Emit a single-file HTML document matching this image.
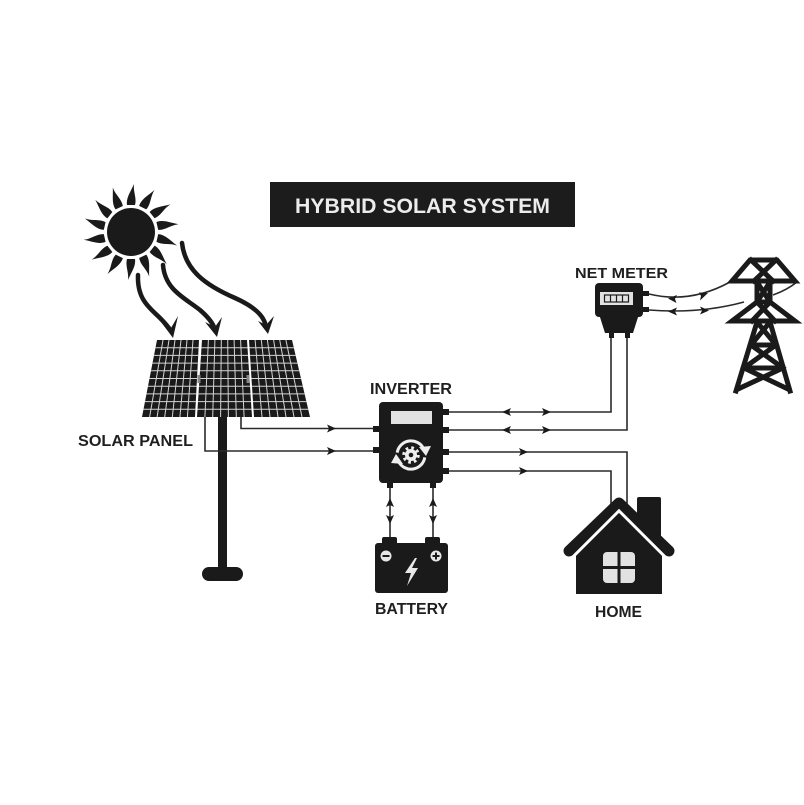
<!DOCTYPE html>
<html><head><meta charset="utf-8"><style>
html,body{margin:0;padding:0;background:#fff;}
svg{display:block;}
text{font-family:"Liberation Sans",Arial,sans-serif;font-weight:bold;}
</style></head><body>
<svg width="804" height="805" viewBox="0 0 804 805" xmlns="http://www.w3.org/2000/svg">
<defs>
  <clipPath id="pclip">
    <polygon points="157,340 199,340 195,417 142,417"/>
    <polygon points="202,340 247,340 252,417 197,417"/>
    <polygon points="249,340 292,340 310,417 254,417"/>
  </clipPath>
</defs>
<rect width="804" height="805" fill="#fff"/>

<!-- Title -->
<rect x="270" y="182" width="305" height="45" fill="#1c1c1c"/>
<text x="295" y="213" font-size="21" fill="#ececec" textLength="255" lengthAdjust="spacingAndGlyphs">HYBRID SOLAR SYSTEM</text>

<!-- Sun -->
<g transform="translate(131,232)" fill="#1a1a1a">
  <circle r="24"/>
  <path id="ray" d="M-4,-27 C-5,-34 -1,-39 3,-48 C2,-40 6,-34 4,-27 Z"/>
  <use href="#ray" transform="rotate(25.7)"/>
  <use href="#ray" transform="rotate(51.4)"/>
  <use href="#ray" transform="rotate(77.1)"/>
  <use href="#ray" transform="rotate(102.8)"/>
  <use href="#ray" transform="rotate(128.5)"/>
  <use href="#ray" transform="rotate(154.2)"/>
  <use href="#ray" transform="rotate(180)"/>
  <use href="#ray" transform="rotate(205.7)"/>
  <use href="#ray" transform="rotate(231.4)"/>
  <use href="#ray" transform="rotate(257.1)"/>
  <use href="#ray" transform="rotate(282.8)"/>
  <use href="#ray" transform="rotate(308.5)"/>
  <use href="#ray" transform="rotate(334.2)"/>
</g>

<!-- Sun arrows -->
<g fill="none" stroke="#1a1a1a" stroke-width="4.5" stroke-linecap="round">
  <path d="M138,275 C137,300 150,308 160,318 C166,324 169,328 171,331"/>
  <path d="M163,265 C165,290 185,298 200,310 C208,317 212,322 214,327"/>
  <path d="M182,243 C185,270 205,285 235,298 C253,306 262,314 265,323"/>
</g>
<g fill="#1a1a1a">
  <polygon points="173,338 161,322 171,328 178,316"/>
  <polygon points="217,337 205,322 215,327 222,317"/>
  <polygon points="268,334 258,321 266,325 274,316"/>
</g>

<!-- Pole -->
<rect x="218" y="412" width="9" height="158" fill="#1a1a1a"/>
<rect x="202" y="567" width="41" height="14" rx="7" fill="#1a1a1a"/>

<!-- Solar panels -->
<g fill="#1a1a1a">
  <polygon points="157,340 199,340 195,417 142,417"/>
  <polygon points="202,340 247,340 252,417 197,417"/>
  <polygon points="249,340 292,340 310,417 254,417"/>
</g>
<g stroke="#d4d4d4" stroke-width="1" clip-path="url(#pclip)">
  <line x1="130" y1="347.7" x2="320" y2="347.7"/>
  <line x1="130" y1="355.4" x2="320" y2="355.4"/>
  <line x1="130" y1="363.1" x2="320" y2="363.1"/>
  <line x1="130" y1="370.8" x2="320" y2="370.8"/>
  <line x1="130" y1="378.5" x2="320" y2="378.5"/>
  <line x1="130" y1="386.2" x2="320" y2="386.2"/>
  <line x1="130" y1="393.9" x2="320" y2="393.9"/>
  <line x1="130" y1="401.6" x2="320" y2="401.6"/>
  <line x1="130" y1="409.3" x2="320" y2="409.3"/>
  <line x1="163" y1="340" x2="149.6" y2="417"/>
  <line x1="169" y1="340" x2="157.1" y2="417"/>
  <line x1="175" y1="340" x2="164.7" y2="417"/>
  <line x1="181" y1="340" x2="172.3" y2="417"/>
  <line x1="187" y1="340" x2="179.9" y2="417"/>
  <line x1="193" y1="340" x2="187.4" y2="417"/>
  <line x1="208.4" y1="340" x2="204.9" y2="417"/>
  <line x1="214.9" y1="340" x2="212.7" y2="417"/>
  <line x1="221.3" y1="340" x2="220.6" y2="417"/>
  <line x1="227.7" y1="340" x2="228.4" y2="417"/>
  <line x1="234.1" y1="340" x2="236.3" y2="417"/>
  <line x1="240.6" y1="340" x2="244.1" y2="417"/>
  <line x1="255.1" y1="340" x2="262" y2="417"/>
  <line x1="261.3" y1="340" x2="270" y2="417"/>
  <line x1="267.4" y1="340" x2="278" y2="417"/>
  <line x1="273.6" y1="340" x2="286" y2="417"/>
  <line x1="279.7" y1="340" x2="294" y2="417"/>
  <line x1="285.9" y1="340" x2="302" y2="417"/>
</g>
<g fill="#888">
  <rect x="197.5" y="375" width="3" height="8"/>
  <rect x="246.5" y="375" width="3" height="8"/>
</g>

<!-- Wires -->
<g fill="none" stroke="#2a2a2a" stroke-width="1.6">
  <path d="M205,417 V451 H379"/>
  <path d="M241,417 V428.5 H379"/>
  <path d="M443,412 H611 V336"/>
  <path d="M443,430 H627 V336"/>
  <path d="M443,452 H627 V505"/>
  <path d="M443,471 H611 V505"/>
  <path d="M390,483 V540"/>
  <path d="M433,483 V540"/>
  <path d="M649,294 Q690,304 730,282"/>
  <path d="M649,310 Q700,314 744,302"/>
  <path d="M773,295 Q787,290 797,282"/>
</g>

<!-- small arrowheads -->
<g fill="#1a1a1a">
  <polygon points="336,428.5 327,424.5 329,428.5 327,432.5"/>
  <polygon points="336,451 327,447 329,451 327,455"/>
  <polygon points="502,412 511,408 509,412 511,416"/>
  <polygon points="551,412 542,408 544,412 542,416"/>
  <polygon points="502,430 511,426 509,430 511,434"/>
  <polygon points="551,430 542,426 544,430 542,434"/>
  <polygon points="528,452 519,448 521,452 519,456"/>
  <polygon points="528,471 519,467 521,471 519,475"/>
  <polygon points="390,498 386,507 390,505 394,507"/>
  <polygon points="390,524 386,515 390,517 394,515"/>
  <polygon points="433,498 429,507 433,505 437,507"/>
  <polygon points="433,524 429,515 433,517 437,515"/>
  <polygon points="668,298.5 677,295 675,299 676.5,303"/>
  <polygon points="708,293 699,292.5 701,296 700,300.5"/>
  <polygon points="668,311.5 677,307.5 675,311.5 677,315.5"/>
  <polygon points="709,310.5 700,306.5 702,310.5 700,314.5"/>
</g>

<!-- Inverter -->
<rect x="379" y="402" width="64" height="81" rx="4" fill="#1a1a1a"/>
<rect x="391" y="411" width="41" height="13" fill="#e2e2e2"/>
<g fill="#1a1a1a">
  <rect x="373" y="426" width="7" height="6"/>
  <rect x="373" y="447" width="7" height="6"/>
  <rect x="442" y="409" width="7" height="6"/>
  <rect x="442" y="427" width="7" height="6"/>
  <rect x="442" y="449" width="7" height="6"/>
  <rect x="442" y="468" width="7" height="6"/>
  <rect x="387" y="481" width="6" height="7"/>
  <rect x="430" y="481" width="6" height="7"/>
</g>
<g fill="none" stroke="#eeeeee" stroke-width="3">
  <path d="M397.2,452.6 A14,14 0 0 1 423.5,448.5"/>
  <path d="M424.8,457.4 A14,14 0 0 1 398.5,461.5"/>
  <circle cx="411" cy="455" r="7" stroke-width="3.5" stroke-dasharray="2.6 2.9"/>
</g>
<g fill="#eeeeee">
  <polygon points="419,447 431,446 426,456"/>
  <polygon points="391,463 403,464 396,454"/>
  <circle cx="411" cy="455" r="6"/>
</g>
<circle cx="411" cy="455" r="2.3" fill="#1a1a1a"/>

<!-- Battery -->
<g fill="#1a1a1a">
  <rect x="382" y="537" width="15" height="9" rx="2"/>
  <rect x="425" y="537" width="15" height="9" rx="2"/>
  <rect x="375" y="543" width="73" height="50" rx="3"/>
</g>
<circle cx="386" cy="556" r="5.5" fill="#e8e8e8"/>
<circle cx="436" cy="556" r="5.5" fill="#e8e8e8"/>
<g stroke="#1a1a1a" stroke-width="2">
  <line x1="382.5" y1="556" x2="389.5" y2="556"/>
  <line x1="432.5" y1="556" x2="439.5" y2="556"/>
  <line x1="436" y1="552.5" x2="436" y2="559.5"/>
</g>
<path d="M415,558 L405,573 L411,573 L407,586 L418,568 L412,568 L417,558 Z" fill="#e8e8e8"/>

<!-- House -->
<rect x="637" y="497" width="24" height="42" rx="2" fill="#1a1a1a"/>
<polyline points="569,551 619,503 669,551" fill="none" stroke="#1a1a1a" stroke-width="11" stroke-linecap="round" stroke-linejoin="round"/>
<polygon points="619,513 662,556 662,594 576,594 576,556" fill="#1a1a1a" stroke="#fff" stroke-width="6" paint-order="stroke"/>
<polygon points="619,513 662,556 662,594 576,594 576,556" fill="#1a1a1a"/>
<rect x="603" y="552" width="32" height="31" rx="4" fill="#e2e2e2"/>
<g stroke="#1a1a1a" stroke-width="3">
  <line x1="619" y1="552" x2="619" y2="583"/>
  <line x1="603" y1="567.5" x2="635" y2="567.5"/>
</g>

<!-- Net meter -->
<g fill="#1a1a1a">
  <rect x="595" y="283" width="48" height="34" rx="4"/>
  <polygon points="599,314 639,314 633,333 605,333"/>
  <rect x="642" y="291" width="7" height="5"/>
  <rect x="642" y="307" width="7" height="5"/>
  <rect x="609" y="330" width="5" height="8"/>
  <rect x="625" y="330" width="5" height="8"/>
</g>
<rect x="600" y="292" width="33" height="13" fill="#e2e2e2"/>
<g fill="none" stroke="#1a1a1a" stroke-width="1.2">
  <rect x="604.5" y="295" width="24" height="7"/>
  <line x1="610.5" y1="295" x2="610.5" y2="302"/>
  <line x1="616.5" y1="295" x2="616.5" y2="302"/>
  <line x1="622.5" y1="295" x2="622.5" y2="302"/>
</g>

<!-- Tower -->
<g fill="none" stroke="#1a1a1a" stroke-width="5" stroke-linejoin="miter" stroke-linecap="square">
  <polygon points="750,260 777,260 795,281 732,281"/>
  <line x1="751" y1="260" x2="773" y2="281"/>
  <line x1="776" y1="260" x2="754" y2="281"/>
  <line x1="757" y1="282" x2="757" y2="302"/>
  <line x1="770" y1="282" x2="770" y2="302"/>
  <line x1="757" y1="282" x2="770" y2="302"/>
  <line x1="770" y1="282" x2="757" y2="302"/>
  <polygon points="757,302 770,302 795,321 732,321"/>
  <line x1="757" y1="302" x2="775" y2="321"/>
  <line x1="770" y1="302" x2="752" y2="321"/>
  <line x1="757" y1="322" x2="736" y2="391"/>
  <line x1="770" y1="322" x2="790" y2="391"/>
  <line x1="751" y1="345" x2="776" y2="345"/>
  <line x1="744" y1="368" x2="783" y2="368"/>
  <line x1="757" y1="322" x2="776" y2="345"/>
  <line x1="770" y1="322" x2="751" y2="345"/>
  <line x1="751" y1="345" x2="783" y2="368"/>
  <line x1="776" y1="345" x2="744" y2="368"/>
  <line x1="744" y1="368" x2="788" y2="389"/>
  <line x1="783" y1="368" x2="738" y2="389"/>
</g>

<!-- Labels -->
<g fill="#1f1f1f">
  <text x="575" y="278" font-size="15" textLength="93" lengthAdjust="spacingAndGlyphs">NET METER</text>
  <text x="370" y="394" font-size="16" textLength="82" lengthAdjust="spacingAndGlyphs">INVERTER</text>
  <text x="78" y="446" font-size="15.5" textLength="115" lengthAdjust="spacingAndGlyphs">SOLAR PANEL</text>
  <text x="375" y="614" font-size="16" textLength="73" lengthAdjust="spacingAndGlyphs">BATTERY</text>
  <text x="595" y="617" font-size="16" textLength="47" lengthAdjust="spacingAndGlyphs">HOME</text>
</g>
</svg>
</body></html>
